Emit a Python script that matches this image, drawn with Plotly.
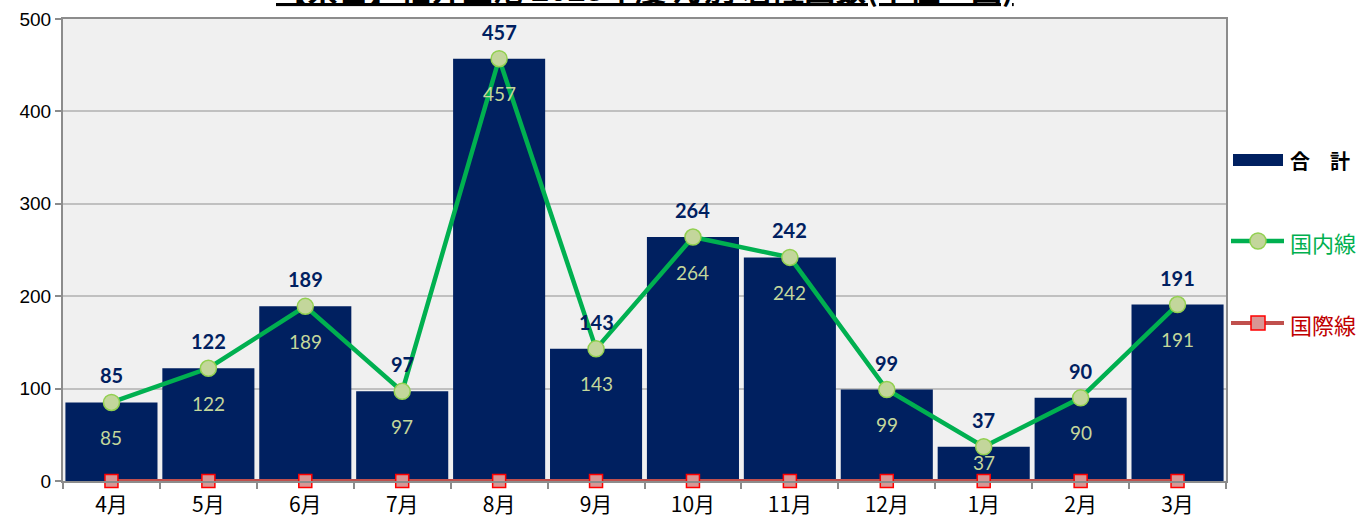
import plotly.graph_objects as go

months = ["4月", "5月", "6月", "7月", "8月", "9月", "10月", "11月", "12月", "1月", "2月", "3月"]
total = [85, 122, 189, 97, 457, 143, 264, 242, 99, 37, 90, 191]
domestic = [85, 122, 189, 97, 457, 143, 264, 242, 99, 37, 90, 191]
international = [0, 0, 0, 0, 0, 0, 0, 0, 0, 0, 0, 0]
title_text = "【県営】福井空港 2023年度 月別 着陸回数(単位：回)"

W, H = 1358, 518
ML, MR, MT, MB = 63, 132, 19, 37
PW, PH = W - ML - MR, H - MT - MB
Y_MAX = 500

NAVY = "#002060"
GREEN = "#00b050"
RED_LINE = "#c0504d"
NUM_FONT = "Lato"
JP_FONT = "Noto Sans CJK JP"


def px(x):
    return (x - ML) / PW


def py(y):
    return (H - MB - y) / PH


fig = go.Figure()

fig.add_trace(go.Bar(
    x=months, y=total, name="合 計",
    marker=dict(color=NAVY, line=dict(width=0)),
    showlegend=False,
))

fig.add_trace(go.Scatter(
    x=months, y=domestic, name="国内線", mode="lines+markers",
    line=dict(color=GREEN, width=4.5),
    marker=dict(symbol="circle", size=16, color="#c3d69b",
                line=dict(color="#92d050", width=1.5)),
    cliponaxis=False, showlegend=False,
))

fig.add_trace(go.Scatter(
    x=months, y=international, name="国際線", mode="lines+markers",
    line=dict(color=RED_LINE, width=4),
    marker=dict(symbol="square", size=13, color="#d99694",
                line=dict(color="#ff0000", width=1.5)),
    cliponaxis=False, showlegend=False,
))

annotations = []
# totals above each bar
for m, v in zip(months, total):
    annotations.append(dict(
        x=m, y=v, xref="x", yref="y", text=f"<b>{v}</b>",
        showarrow=False, yanchor="middle", yshift=27,
        font=dict(family=NUM_FONT, size=20, color=NAVY),
    ))
# domestic values below the markers, kept at least 18px above the axis
for m, v in zip(months, domestic):
    room = v * PH / Y_MAX - 18
    shift = -min(35, room)
    annotations.append(dict(
        x=m, y=v, xref="x", yref="y", text=str(v),
        showarrow=False, yanchor="middle", yshift=shift,
        font=dict(family=NUM_FONT, size=19, color="#c4d79b"),
    ))

# chart title (runs off the top of the page)
annotations.append(dict(
    x=0.5, y=1 + 7.5 / PH, xref="paper", yref="paper",
    text=f"<u><b>{title_text}</b></u>", showarrow=False,
    xanchor="center", yanchor="bottom",
    font=dict(family=JP_FONT, size=31, color="black"),
))

# legend entries
legend_items = [
    ("<b>合　計</b>", "black", 160, 20),
    ("国内線", GREEN, 242, 22),
    ("国際線", "#c00000", 324, 22),
]
for text, color, yc, size in legend_items:
    annotations.append(dict(
        x=px(1288), y=py(yc), xref="paper", yref="paper", text=text,
        showarrow=False, xanchor="left", yanchor="middle",
        font=dict(family=JP_FONT, size=size, color=color),
    ))

shapes = [
    # bar swatch
    dict(type="rect", xref="paper", yref="paper",
         x0=px(1233), x1=px(1283), y0=py(154), y1=py(166),
         fillcolor=NAVY, line=dict(width=0)),
    # domestic swatch
    dict(type="line", xref="paper", yref="paper",
         x0=px(1231), x1=px(1284), y0=py(241), y1=py(241),
         line=dict(color=GREEN, width=4.5)),
    dict(type="circle", xref="paper", yref="paper",
         x0=px(1250), x1=px(1266), y0=py(249), y1=py(233),
         fillcolor="#c3d69b", line=dict(color="#92d050", width=1.5)),
    # international swatch
    dict(type="line", xref="paper", yref="paper",
         x0=px(1231), x1=px(1284), y0=py(323), y1=py(323),
         line=dict(color=RED_LINE, width=4)),
    dict(type="rect", xref="paper", yref="paper",
         x0=px(1251), x1=px(1265), y0=py(330), y1=py(316),
         fillcolor="#d99694", line=dict(color="#ff0000", width=1.5)),
]

fig.update_layout(
    width=W, height=H,
    margin=dict(l=ML, r=MR, t=MT, b=MB, autoexpand=False),
    paper_bgcolor="white", plot_bgcolor="#f0f0f0",
    bargap=0.05,
    annotations=annotations, shapes=shapes,
    showlegend=False,
)

fig.update_xaxes(
    type="category", range=[-0.5, 11.5], automargin=False,
    tickson="boundaries", ticks="outside", ticklen=6, tickwidth=1.5,
    tickcolor="#8c8c8c", showgrid=False, ticklabelstandoff=4,
    showline=True, linecolor="#8c8c8c", linewidth=2, mirror=True,
    tickfont=dict(family=JP_FONT, size=21, color="black"),
)
fig.update_yaxes(
    range=[0, Y_MAX], tickvals=[0, 100, 200, 300, 400, 500], automargin=False,
    ticks="outside", ticklen=6, tickwidth=1.5, tickcolor="#8c8c8c",
    showgrid=True, gridcolor="#c0c0c0", gridwidth=1.5, zeroline=False,
    showline=True, linecolor="#8c8c8c", linewidth=2, mirror=True,
    tickfont=dict(family="Liberation Sans", size=19, color="black"),
)

fig.write_html("out.html")
